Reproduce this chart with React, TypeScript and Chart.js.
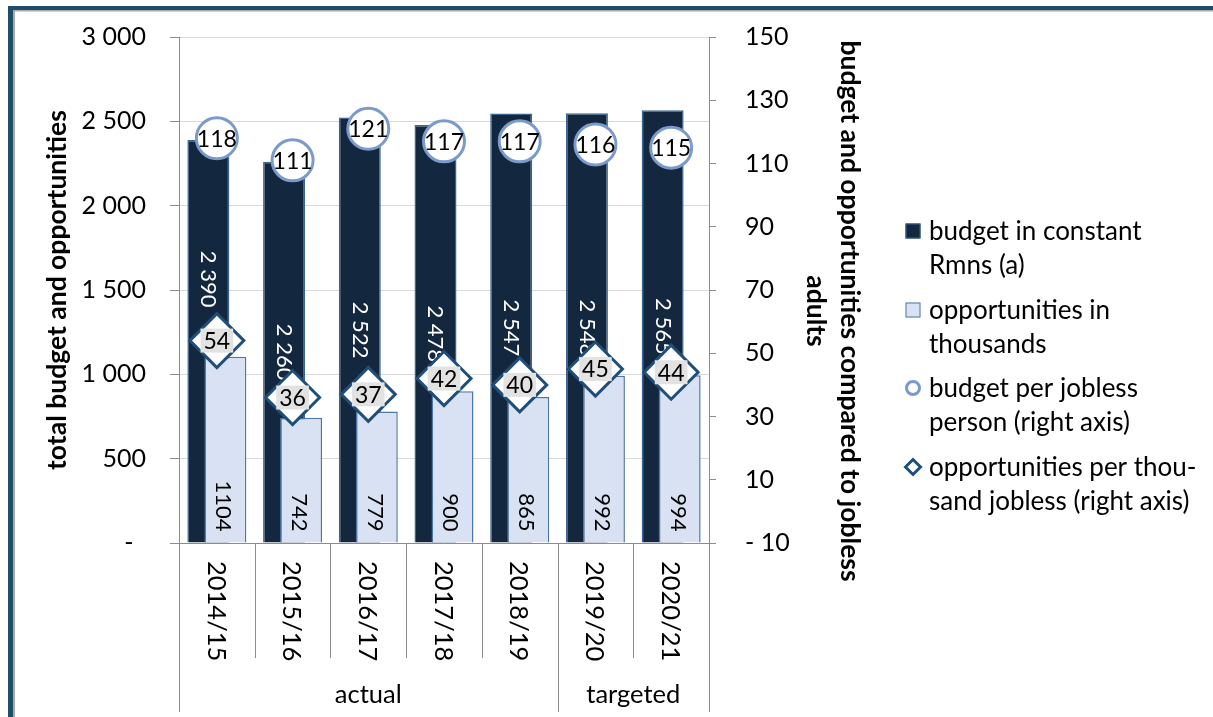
import React, { useEffect, useRef } from "react";
import { Chart, registerables } from "chart.js";

Chart.register(...registerables);

// ---------- data ----------
const categories = ["2014/15", "2015/16", "2016/17", "2017/18", "2018/19", "2019/20", "2020/21"];
const groupLabels = ["actual", "targeted"];
const groupSizes = [5, 2];
const budget = [2390, 2260, 2522, 2478, 2547, 2548, 2565];
const opportunities = [1104, 742, 779, 900, 865, 992, 994];
const budgetPerJobless = [118, 111, 121, 117, 117, 116, 115];
const opportunitiesPerThousand = [54, 36, 37, 42, 40, 45, 44];
const leftTickValues = [0, 500, 1000, 1500, 2000, 2500, 3000];
const rightTickValues = [-10, 10, 30, 50, 70, 90, 110, 130, 150];
const seriesNames = [
  ["budget in constant", "Rmns (a)"],
  ["opportunities in", "thousands"],
  ["budget per jobless", "person (right axis)"],
  ["opportunities per thou-", "sand jobless (right axis)"],
];
const leftAxisTitle = "total budget and opportunities";
const rightAxisTitle = ["budget and opportunities compared to jobless", "adults"];

// ---------- style ----------
const FONT = "Lato, 'Open Sans', sans-serif";
const COL = {
  budget: "#13273f",
  budgetBorder: "#3d6591",
  opp: "#d9e2f3",
  oppBorder: "#4f77a5",
  circle: "#7b9acc",
  diamond: "#1f4e79",
  grid: "#d9d9d9",
  axis: "#8c8c8c",
  frame: "#1f4e6a",
  shadow: "#a9a9a9",
  diamondLabelBg: "#e2e2e2",
};
const budgetLabelShift = [-62, 0, 0, 0, 0, 0, 0];

const fmtSpace = (v: number) => String(v).replace(/\B(?=(\d{3})+(?!\d))/g, " ");

function drawBudgetLabels(chart: any, meta: any) {
  const ctx = chart.ctx;
  const data = chart.data.datasets[meta.index].data as number[];
  ctx.save();
  ctx.font = `22px ${FONT}`;
  ctx.fillStyle = "#ffffff";
  ctx.textAlign = "center";
  ctx.textBaseline = "middle";
  meta.data.forEach((el: any, i: number) => {
    const { x, y, base } = el.getProps(["x", "y", "base"], true);
    ctx.save();
    ctx.translate(x, (y + base) / 2 + budgetLabelShift[i]);
    ctx.rotate(Math.PI / 2);
    ctx.fillText(fmtSpace(data[i]), 0, 0);
    ctx.restore();
  });
  ctx.restore();
}

function drawOppLabels(chart: any, meta: any) {
  const ctx = chart.ctx;
  const data = chart.data.datasets[meta.index].data as number[];
  ctx.save();
  ctx.font = `22px ${FONT}`;
  ctx.fillStyle = "#000000";
  ctx.textAlign = "right";
  ctx.textBaseline = "middle";
  meta.data.forEach((el: any, i: number) => {
    const { x, base } = el.getProps(["x", "base"], true);
    ctx.save();
    ctx.translate(x - 2, base - 11);
    ctx.rotate(Math.PI / 2);
    ctx.fillText(String(data[i]), 0, 0);
    ctx.restore();
  });
  ctx.restore();
}

function drawPointLabels(chart: any, meta: any, withBg: boolean) {
  const ctx = chart.ctx;
  const data = chart.data.datasets[meta.index].data as number[];
  ctx.save();
  ctx.font = `23px ${FONT}`;
  ctx.textAlign = "center";
  ctx.textBaseline = "middle";
  meta.data.forEach((el: any, i: number) => {
    const { x, y } = el.getProps(["x", "y"], true);
    const t = String(data[i]);
    if (withBg) {
      const w = ctx.measureText(t).width;
      ctx.fillStyle = COL.diamondLabelBg;
      ctx.fillRect(x - w / 2 - 3, y - 12, w + 6, 24);
    }
    ctx.fillStyle = "#000000";
    ctx.fillText(t, x, y + 1);
  });
  ctx.restore();
}

const orderedDraw = {
  id: "orderedDraw",
  beforeDatasetsDraw(chart: any) {
    const metas = chart
      .getSortedVisibleDatasetMetas()
      .slice()
      .sort((a: any, b: any) => a.index - b.index);
    for (const meta of metas) {
      meta.controller.draw();
      if (meta.index === 0) drawBudgetLabels(chart, meta);
      if (meta.index === 1) drawOppLabels(chart, meta);
    }
    drawPointLabels(chart, metas[2], false);
    drawPointLabels(chart, metas[3], true);
    return false;
  },
};

const decorations = {
  id: "decorations",
  beforeDraw(chart: any) {
    const ctx = chart.ctx;
    const W = chart.width;
    const H = chart.height;
    ctx.save();
    ctx.fillStyle = "#ffffff";
    ctx.fillRect(0, 0, W, H);
    ctx.fillStyle = COL.shadow;
    ctx.fillRect(13, 10, W - 13, 1.5);
    ctx.fillRect(13, 10, 2, H - 10);
    ctx.fillStyle = COL.frame;
    ctx.fillRect(8, 6, W - 8, 4);
    ctx.fillRect(8, 6, 5, H - 6);
    ctx.restore();
  },
  afterDraw(chart: any) {
    const ctx = chart.ctx;
    const xs = chart.scales.x;
    const n = categories.length;
    const half = (xs.getPixelForValue(1) - xs.getPixelForValue(0)) / 2;
    const axisY = xs.top;
    const groupBounds = [0];
    groupSizes.forEach((s) => groupBounds.push(groupBounds[groupBounds.length - 1] + s));
    const bx = (i: number) => (i < n ? xs.getPixelForValue(i) - half : xs.getPixelForValue(n - 1) + half);

    ctx.save();
    ctx.strokeStyle = COL.axis;
    ctx.lineWidth = 1;
    for (let i = 0; i <= n; i++) {
      const x = Math.round(bx(i)) + 0.5;
      const isGroup = groupBounds.includes(i);
      ctx.beginPath();
      ctx.moveTo(x, axisY);
      ctx.lineTo(x, isGroup ? 712 : 658);
      ctx.stroke();
    }
    ctx.fillStyle = "#000000";
    ctx.font = `25.5px ${FONT}`;
    ctx.textAlign = "left";
    ctx.textBaseline = "middle";
    categories.forEach((c, i) => {
      ctx.save();
      ctx.translate(xs.getPixelForValue(i) - 1, 561);
      ctx.rotate(Math.PI / 2);
      ctx.fillText(c, 0, 0);
      ctx.restore();
    });
    ctx.textAlign = "center";
    groupLabels.forEach((g, k) => {
      const cx = (bx(groupBounds[k]) + bx(groupBounds[k + 1])) / 2;
      ctx.fillText(g, cx, 695);
    });

    ctx.font = `bold 26.5px ${FONT}`;
    ctx.save();
    ctx.translate(57, (chart.chartArea.top + chart.chartArea.bottom) / 2);
    ctx.rotate(-Math.PI / 2);
    ctx.fillText(leftAxisTitle, 0, 0);
    ctx.restore();
    ctx.save();
    ctx.translate(850, 311);
    ctx.rotate(Math.PI / 2);
    rightAxisTitle.forEach((t, k) => ctx.fillText(t, 0, k * 34));
    ctx.restore();

    const mx = 913;
    const tx = 929;
    const rowY = [231, 310, 388, 467];
    ctx.font = `26px ${FONT}`;
    ctx.textAlign = "left";
    seriesNames.forEach((lines, k) => {
      const y = rowY[k];
      ctx.save();
      if (k === 0 || k === 1) {
        ctx.fillStyle = k === 0 ? COL.budget : COL.opp;
        ctx.strokeStyle = k === 0 ? COL.budgetBorder : COL.oppBorder;
        ctx.lineWidth = 1;
        ctx.fillRect(mx - 7.5, y - 7.5, 15, 15);
        ctx.strokeRect(mx - 7, y - 7, 14, 14);
      } else if (k === 2) {
        ctx.fillStyle = "#ffffff";
        ctx.strokeStyle = COL.circle;
        ctx.lineWidth = 3;
        ctx.beginPath();
        ctx.arc(mx, y, 6.5, 0, Math.PI * 2);
        ctx.fill();
        ctx.stroke();
      } else {
        ctx.fillStyle = "#ffffff";
        ctx.strokeStyle = COL.diamond;
        ctx.lineWidth = 3;
        ctx.beginPath();
        ctx.moveTo(mx - 7.5, y);
        ctx.lineTo(mx, y - 7.5);
        ctx.lineTo(mx + 7.5, y);
        ctx.lineTo(mx, y + 7.5);
        ctx.closePath();
        ctx.fill();
        ctx.stroke();
      }
      ctx.restore();
      ctx.fillStyle = "#000000";
      lines.forEach((l, j) => ctx.fillText(l, tx, y + 1 + j * 34));
    });
    ctx.restore();
  },
};

export default function App() {
  const ref = useRef<HTMLCanvasElement>(null);
  useEffect(() => {
    if (!ref.current) return;
    const tickFont = { family: FONT, size: 25 };
    const chart = new Chart(ref.current, {
      data: {
        labels: categories,
        datasets: [
          {
            type: "bar",
            label: seriesNames[0].join(" "),
            data: budget,
            backgroundColor: COL.budget,
            borderColor: COL.budgetBorder,
            borderWidth: 1.5,
            categoryPercentage: 0.449,
            barPercentage: 2.47,
            yAxisID: "y",
          },
          {
            type: "bar",
            label: seriesNames[1].join(" "),
            data: opportunities,
            backgroundColor: COL.opp,
            borderColor: COL.oppBorder,
            borderWidth: 1.5,
            categoryPercentage: 0.449,
            barPercentage: 2.47,
            yAxisID: "y",
          },
          {
            type: "line",
            label: seriesNames[2].join(" "),
            data: budgetPerJobless,
            showLine: false,
            pointStyle: "circle",
            pointRadius: 20.5,
            pointBorderWidth: 3,
            pointBackgroundColor: "#ffffff",
            pointBorderColor: COL.circle,
            yAxisID: "y1",
          },
          {
            type: "line",
            label: seriesNames[3].join(" "),
            data: opportunitiesPerThousand,
            showLine: false,
            pointStyle: "rectRot",
            pointRadius: 27,
            pointBorderWidth: 3,
            pointBackgroundColor: "#ffffff",
            pointBorderColor: COL.diamond,
            yAxisID: "y1",
          },
        ] as any,
      },
      options: {
        responsive: false,
        animation: false,
        devicePixelRatio: 1,
        events: [],
        layout: { padding: { top: 37, left: 0, right: 0, bottom: 0 } },
        plugins: { legend: { display: false }, tooltip: { enabled: false }, title: { display: false } },
        scales: {
          x: {
            type: "category",
            offset: true,
            grid: { display: false },
            ticks: { display: false },
            border: { color: COL.axis, width: 1 },
            afterFit: (s: any) => {
              s.height = 174;
            },
          },
          y: {
            type: "linear",
            position: "left",
            min: leftTickValues[0],
            max: leftTickValues[leftTickValues.length - 1],
            afterBuildTicks: (s: any) => {
              s.ticks = leftTickValues.map((v) => ({ value: v }));
            },
            ticks: {
              padding: 24,
              color: "#000000",
              font: tickFont,
              callback: (v: any) => (Number(v) === 0 ? "-\u2002" : fmtSpace(Number(v))),
            },
            grid: { color: COL.grid, tickColor: COL.axis, tickLength: 9, lineWidth: 1 },
            border: { color: COL.axis, width: 1 },
            afterFit: (s: any) => {
              s.width = 179;
              s.paddingTop = 0;
              s.paddingBottom = 0;
            },
          },
          y1: {
            type: "linear",
            position: "right",
            min: rightTickValues[0],
            max: rightTickValues[rightTickValues.length - 1],
            afterBuildTicks: (s: any) => {
              s.ticks = rightTickValues.map((v) => ({ value: v }));
            },
            ticks: {
              padding: 29,
              color: "#000000",
              font: tickFont,
              callback: (v: any) => (Number(v) < 0 ? "- " + Math.abs(Number(v)) : String(v)),
            },
            grid: { drawOnChartArea: false, tickColor: COL.axis, tickLength: 7 },
            border: { color: COL.axis, width: 1 },
            afterFit: (s: any) => {
              s.width = 504;
              s.paddingTop = 0;
              s.paddingBottom = 0;
            },
          },
        },
      } as any,
      plugins: [decorations, orderedDraw],
    } as any);
    return () => chart.destroy();
  }, []);

  return (
    <div style={{ position: "fixed", left: 0, top: 0, width: 1213, height: 717, background: "#ffffff" }}>
      <canvas ref={ref} width={1213} height={717} style={{ display: "block", width: 1213, height: 717 }} />
    </div>
  );
}
